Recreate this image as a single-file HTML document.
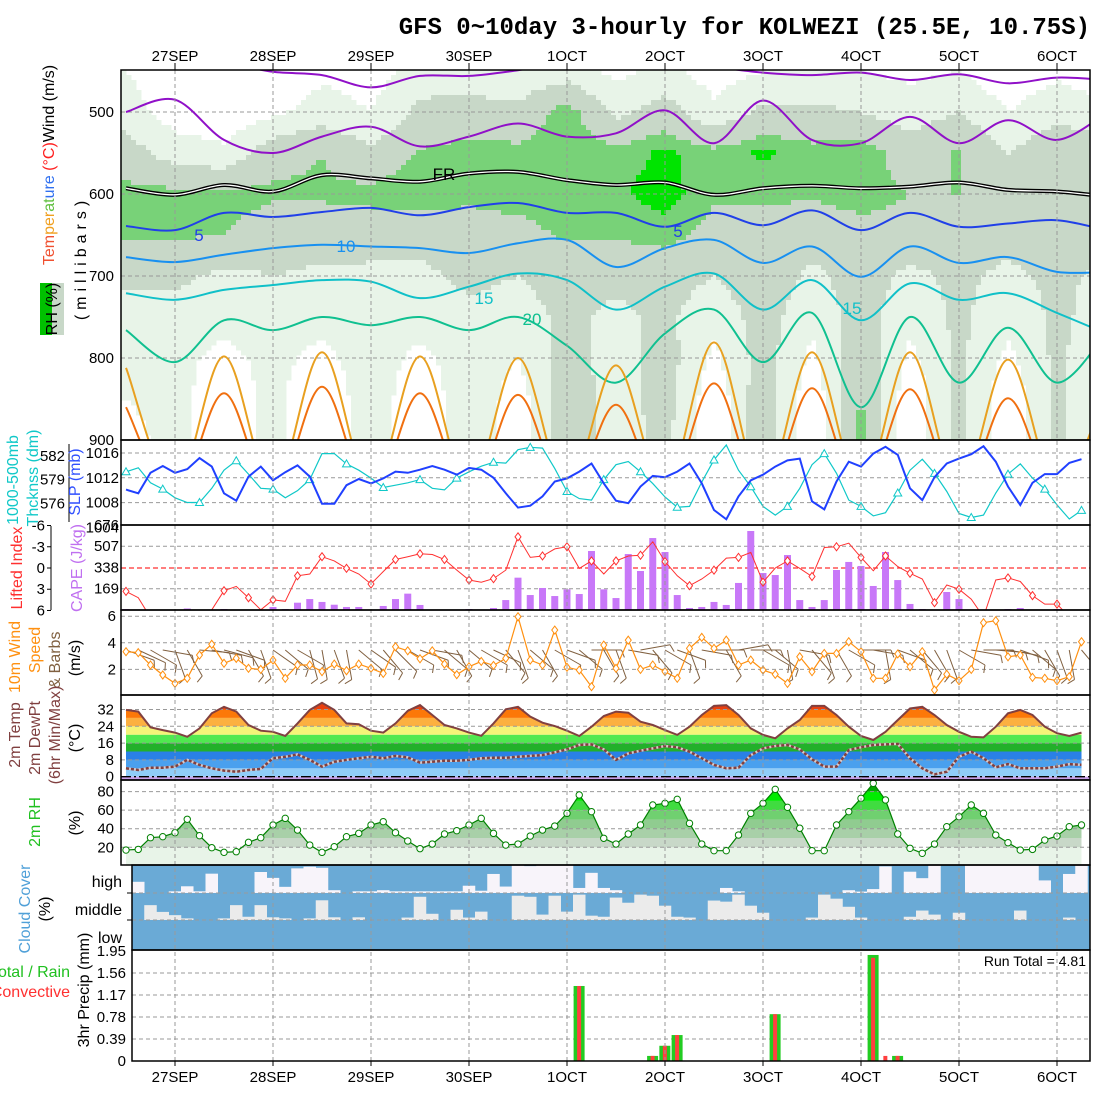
<!DOCTYPE html>
<html><head><meta charset="utf-8"><title>GFS meteogram KOLWEZI</title>
<style>
html,body{margin:0;padding:0;background:#fff;}
svg{display:block;font-family:"Liberation Sans",sans-serif;}
.t{font-size:15px;fill:#000;}
</style></head>
<body>
<svg id="chart" xmlns="http://www.w3.org/2000/svg" width="1100" height="1100" viewBox="0 0 1100 1100">
<defs>
<clipPath id="cTop"><rect x="121" y="70" width="969" height="370"/></clipPath>
<clipPath id="cSlp"><rect x="121" y="440" width="969" height="85"/></clipPath>
<clipPath id="cCape"><rect x="121" y="525" width="969" height="85"/></clipPath>
<clipPath id="cWind"><rect x="121" y="610" width="969" height="85"/></clipPath>
<clipPath id="cTemp"><rect x="121" y="695" width="969" height="85"/></clipPath>
<clipPath id="cRh"><rect x="121" y="780" width="969" height="85"/></clipPath>
<clipPath id="cCloud"><rect x="132" y="865" width="958" height="85"/></clipPath>
<clipPath id="cPrec"><rect x="132" y="950" width="958" height="111"/></clipPath>
</defs>
<rect x="0" y="0" width="1100" height="1100" fill="#fff"/>
<text x="1090" y="34" text-anchor="end" style="font-family:'Liberation Mono',monospace;font-weight:bold;font-size:24px">GFS 0~10day 3-hourly for KOLWEZI (25.5E, 10.75S)</text>

<g id="layers"></g>

<g style="font-size:16px">
<text transform="rotate(-90 54 165)" x="54" y="165" text-anchor="middle"><tspan fill="#f05030">Tem</tspan><tspan fill="#f0a020">per</tspan><tspan fill="#60c040">at</tspan><tspan fill="#3070f0">ure</tspan><tspan fill="#ff2020"> (°C)</tspan><tspan fill="#000">Wind (m/s)</tspan></text>
<rect x="40" y="283" width="24" height="52" fill="#c8d8c8"/>
<rect x="40" y="283" width="12" height="52" fill="#00c000"/>
<text transform="rotate(-90 57 309)" x="57" y="309" text-anchor="middle" fill="#000">RH (%)</text>
<text transform="rotate(-90 86 258)" x="86" y="258" text-anchor="middle" letter-spacing="5">(millibars)</text>
<text transform="rotate(-90 18 480)" x="18" y="480" text-anchor="middle" fill="#10c8c8">1000-500mb</text>
<text transform="rotate(-90 38 478)" x="38" y="478" text-anchor="middle" fill="#10c8c8">Thcknss (dm)</text>
<text transform="rotate(-90 80 482)" x="80" y="482" text-anchor="middle" fill="#3050ff">SLP (mb)</text>
<text transform="rotate(-90 22 568)" x="22" y="568" text-anchor="middle" fill="#ff3030">Lifted Index</text>
<text transform="rotate(-90 82 568)" x="82" y="568" text-anchor="middle" fill="#c070f0">CAPE (J/kg)</text>
<text transform="rotate(-90 20 657)" x="20" y="657" text-anchor="middle" fill="#ff9010">10m Wind</text>
<text transform="rotate(-90 40 650)" x="40" y="650" text-anchor="middle" fill="#ff9010">Speed</text>
<text transform="rotate(-90 60 660)" x="60" y="660" text-anchor="middle" fill="#806040">&amp; Barbs</text>
<text transform="rotate(-90 80 658)" x="80" y="658" text-anchor="middle">(m/s)</text>
<text transform="rotate(-90 20 735)" x="20" y="735" text-anchor="middle" fill="#804040">2m Temp</text>
<text transform="rotate(-90 40 738)" x="40" y="738" text-anchor="middle" fill="#804040">2m DewPt</text>
<text transform="rotate(-90 60 735)" x="60" y="735" text-anchor="middle" fill="#804040">(6hr Min/Max)</text>
<text transform="rotate(-90 80 738)" x="80" y="738" text-anchor="middle">(°C)</text>
<text transform="rotate(-90 40 822)" x="40" y="822" text-anchor="middle" fill="#20c020">2m RH</text>
<text transform="rotate(-90 80 823)" x="80" y="823" text-anchor="middle">(%)</text>
<text transform="rotate(-90 30 909)" x="30" y="909" text-anchor="middle" fill="#50a0d8">Cloud Cover</text>
<text transform="rotate(-90 50 909)" x="50" y="909" text-anchor="middle">(%)</text>
<text x="122" y="887" text-anchor="end">high</text>
<text x="122" y="915" text-anchor="end">middle</text>
<text x="122" y="943" text-anchor="end">low</text>
<text x="70" y="977" text-anchor="end" fill="#20c020">Total / Rain</text>
<text x="70" y="997" text-anchor="end" fill="#ff3030">Convective</text>
<text transform="rotate(-90 89 990)" x="89" y="990" text-anchor="middle">3hr Precip (mm)</text>
<text x="1086" y="966" text-anchor="end" style="font-size:14px">Run Total = 4.81</text>
</g>
</svg>
<script>
// ---------------- DATA ----------------
const dateLabels = ["27SEP","28SEP","29SEP","30SEP","1OCT","2OCT","3OCT","4OCT","5OCT","6OCT"];
const pressTicks = [500,600,700,800,900];
const slpTicks = [1016,1012,1008,1004];
const thkTicks = [582,579,576];
const liTicks = [-6,-3,0,3,6];
const capeTicks = [676,507,338,169];
const windTicks = [6,4,2];
const tempTicks = [32,24,16,8,0];
const rhTicks = [80,60,40,20];
const precTicks = [1.95,1.56,1.17,0.78,0.39,0];

const slpData = [1010.1,1009.5,1012.8,1013.9,1012.8,1013.4,1015.2,1013.8,1009.5,1008.3,1012.2,1013.8,1011.6,1012.9,1014.0,1012.2,1007.8,1007.8,1010.8,1011.8,1011.1,1011.9,1013.0,
1012.8,1013.3,1013.9,1013.3,1012.5,1013.6,1013.3,1012.0,
1009.5,1007.2,1007.5,1009.0,1011.4,1011.9,1013.0,1014.3,1011.1,1008.3,1007.9,1010.6,1012.3,1012.1,1013.0,1014.3,1011.1,1006.8,1005.3,1009.0,
1011.6,1012.5,1013.8,1014.8,1015.1,1008.2,1006.9,1011.4,1014.6,1013.8,1015.9,1017.0,1015.7,1010.3,1008.4,1012.1,1014.3,1015.1,1015.8,1017.1,
1014.6,1010.6,1007.6,1011.2,1012.6,1012.6,1014.4,1015.0];
const thkData = [580.0,580.5,578.6,577.8,576.7,576.1,576.1,577.9,580.2,581.4,579.7,577.9,577.8,576.7,577.6,579.0,582.3,582.3,581.0,580.2,579.2,578.0,578.3,
578.6,579.0,577.9,577.7,579.2,580.0,580.7,581.2,
581.1,582.8,583.1,583.0,580.4,577.5,576.6,576.4,579.0,580.9,581.3,580.0,578.5,576.8,575.5,575.6,578.7,581.5,583.4,580.2,
578.1,575.6,574.5,575.6,577.9,580.9,582.3,579.8,576.4,575.6,574.4,574.8,577.3,580.2,581.6,579.8,577.5,574.7,574.2,574.5,
577.3,579.7,581.0,579.2,577.8,575.8,574.0,575.1];
const liData = [3.3,4.2,7,7,7,7,7,5.9,3.2,2.6,4.2,5.9,4.5,4.7,1.1,0.85,-1.6,-1.0,0.05,0.85,2.26,0.5,-1.2,
-1.6,-2.0,-1.9,-1.2,0.3,1.7,2.0,1.5,
0.3,-4.4,-1.5,-1.7,-2.7,-3.0,0.05,-1.0,0.85,-1.0,-1.7,-1.8,-3.7,-0.9,1.1,2.5,1.55,0.3,-1.4,-1.5,
-2.2,2.0,0,-1.0,0.05,1.2,-2.9,-3.0,-3.5,-1.5,0.4,-1.7,-0.2,0.75,1.55,4.9,2.4,3.0,4.4,6.9,
1.7,1.4,1.9,3.9,5.1,5.1,6.9,7];
const capeData = [8,0,0,0,0,12,0,0,8,0,0,0,24,8,58,87,64,42,24,24,0,32,87,
130,40,0,0,0,8,0,16,
79,257,119,175,111,164,127,469,164,95,445,310,572,461,119,16,24,64,40,215,
628,294,278,437,79,24,79,318,382,350,191,461,238,48,8,0,143,87,
0,0,0,8,16,0,0,8,0,0];
const windData = [3.33,3.26,2.33,1.58,0.95,1.33,3.08,3.89,2.46,2.83,2.08,2.0,2.7,1.33,2.33,2.33,1.83,2.4,1.9,2.4,2.08,1.7,3.7,
3.4,2.8,3.4,2.4,1.6,2.2,2.6,2.3,
2.83,5.96,2.7,2.33,4.96,2.16,1.95,0.7,3.83,2.08,4.2,2.0,2.33,1.83,1.33,3.58,4.41,3.58,4.2,2.33,
2.7,1.95,1.63,0.95,2.95,1.83,3.2,3.2,4.08,3.33,1.33,1.33,3.16,2.2,3.33,0.45,1.63,1.15,2.0,5.51,
5.66,2.95,3.08,1.4,1.33,1.15,1.45,4.08];
const windDir = [110,115,120,100,160,150,95,100,105,110,
150,160,125,130,120,165,170,160,170,130,
125,140,135,120,110,100,130,150,130,120,
115,140,160,130,150,120,110,130,90,150,
160,100,80,140,120,110,160,100,90,150,
80,90,120,130,170,100,140,160,150,120,
90,100,170,110,130,140,150,160,120,100,
90,95,100,110,130,150,160,170,140];
const tempData = [31.8,31.0,23.5,22.2,
21.0,19.0,23.0,30.2,33.3,31.0,24.6,21.9,
21.4,19.4,25.4,31.8,35.2,31.8,25.4,25.0,
21.9,21.0,
25.4,31.4,34.1,29.4,24.6,23.0,21.0,19.5,25.4,32.1,
33.3,28.6,25.7,24.1,21.9,19.4,23.8,28.9,31.0,30.5,
26.2,24.6,22.2,19.9,23.8,29.4,33.7,34.1,29.4,23.0,
19.9,18.3,23.0,27.0,33.7,33.7,29.4,23.8,19.4,17.5,
21.4,27.0,32.5,33.3,29.4,24.6,21.4,19.0,18.7,23.8,
30.2,31.8,29.4,23.8,20.7,19.4,21.0];
const dewData = [4.0,3.2,4.3,4.3,4.8,8.0,5.6,4.0,2.9,2.4,3.2,3.7,8.8,9.5,10.6,8.0,4.8,7.1,8.0,8.8,9.5,
8.8,9.9,9.2,6.7,7.1,7.6,7.6,8.0,8.8,9.0,
9.0,9.5,9.9,10.3,11.6,13.0,15.1,15.4,13.0,8.0,
11.1,12.4,13.5,14.6,14.0,11.9,8.8,5.6,4.0,4.3,
10.3,13.5,14.6,15.1,13.0,8.3,4.8,4.8,12.7,14.0,
15.1,15.4,15.6,8.8,4.0,1.1,2.4,9.5,11.9,8.8,
4.5,6.0,4.0,4.0,4.0,4.8,6.0,5.6];
const rhData = [17.0,17.7,30.3,31.4,35.7,50.2,32.5,19.5,14.5,15.2,25.3,30.3,44.0,51.2,38.6,22.4,14.5,20.6,31.4,35.0,44.0,
47.6,35.7,26.8,18.5,23.5,34.3,37.9,44.0,51.2,35.0,
22.4,23.5,32.1,38.6,42.9,56.6,76.4,58.4,29.7,23.5,
34.3,44.0,65.6,67.4,71.7,45.8,23.5,16.3,16.3,33.2,
56.6,67.4,82.5,63.1,40.5,16.3,16.3,44.0,58.4,72.8,
89.0,71.0,34.3,18.9,13.5,23.5,42.2,53.0,65.6,56.6,
33.2,24.9,17.0,17.7,27.8,32.1,42.2,44.0];
const cloudHigh = [40,0,0,6,24,6,69,0,0,0,75,54,22,88,94,90,10,0,6,6,10,6,
6,6,6,6,6,26,8,68,23,99,96,99,99,99,18,72,18,10,
0,0,0,0,0,0,0,0,18,6,0,0,0,0,0,0,0,0,10,5,
14,95,0,76,53,99,0,0,99,99,99,99,99,99,45,0,68,99];
const cloudMid = [0,55,30,18,6,0,0,6,55,12,55,10,6,0,6,73,10,0,10,0,0,0,
9,86,23,0,38,9,31,0,0,90,86,20,90,31,94,16,12,83,64,94,
90,53,12,9,0,72,68,94,53,27,0,0,0,9,94,79,49,9,0,0,
0,12,35,20,0,27,0,0,0,0,35,0,0,0,9,0];
const cloudLow = [0,0,0,0,0,0,0,0,0,0,0,0,0,0,0,0,0,0,0,0,0,0,0,0,0,0,0,0,0,0,0,0,0,0,0,0,0,0,0,0,
0,0,0,0,0,0,0,0,0,0,0,0,0,0,0,0,0,0,0,0,0,0,0,0,0,0,0,0,0,0,0,0,0,0,0,0,0,0];
const precTotal = [0,0,0,0,0,0,0,0,0,0,0,0,0,0,0,0,0,0,0,0,0,0,0,0,0,0,0,0,0,0,0,0,0,0,0,0,1.33,0,0,0,
0,0,0.09,0.27,0.46,0,0,0,0,0,0,0,0.83,0,0,0,0,0,0,0,1.88,0,0.09,0,0,0,0,0,0,0,0,0,0,0,0,0,0,0];
const precConv = [0,0,0,0,0,0,0,0,0,0,0,0,0,0,0,0,0,0,0,0,0,0,0,0,0,0,0,0,0,0,0,0,0,0,0,0,1.33,0,0,0,
0,0,0.09,0.27,0.46,0,0,0,0,0,0,0,0.83,0,0,0,0,0,0,0,1.83,0.09,0.09,0,0,0,0,0,0,0,0,0,0,0,0,0,0,0];

const xsLevels = [450,500,550,600,650,700,750,800,850,900];
const xsRh = [
[30,40,60,75,72,55,40,35,30,25],[15,20,40,75,72,55,40,35,35,35],[10,15,35,75,70,45,35,25,20,20],
[10,25,65,72,62,50,40,35,35,35],[25,40,70,72,62,45,35,25,15,15],[20,30,55,75,60,45,40,40,42,40],
[40,55,72,78,58,45,38,25,15,15],[35,60,75,72,65,55,45,40,45,45],[35,55,75,75,65,50,40,30,20,15],
[40,78,80,78,72,60,55,60,65,65],[25,45,75,78,72,55,45,40,40,40],[35,60,82,85,75,60,55,60,60,55],
[20,35,75,72,65,50,35,25,15,15],[30,55,82,72,65,65,60,60,65,65],[30,55,75,72,60,45,35,25,15,15],
[30,50,80,75,65,60,60,65,72,75],[25,40,60,70,65,45,35,25,15,15],[30,50,72,70,60,55,55,55,55,55],
[15,30,50,65,58,45,35,25,15,15],[25,45,65,70,60,55,55,55,55,55],[15,35,60,65,55,45,40,30,25,25]];
const isoM10 = [500,485,534,550,530,518,542,530,514,530,526,498,538,486,534,538,506,538,510,534,502];
const isoM10b = [440,440,440,451,455,470,456,456,449,440,440,440,445,452,455,452,461,454,465,458,461];
const isoFR = [593,601,589,597,577,581,585,575,573,583,589,586,601,593,590,593,591,586,595,597,603];
const iso5 = [639,644,623,628,622,617,626,616,611,623,623,640,623,638,620,644,623,640,636,632,644];
const iso10 = [677,683,674,666,662,664,666,672,660,656,689,666,656,684,664,701,664,684,677,695,695];
const iso15 = [721,729,717,711,705,707,727,713,697,705,741,713,697,741,705,754,709,729,721,745,770];
const iso20 = [766,805,754,766,750,760,750,766,750,785,830,770,741,805,745,860,750,830,763,830,770];
const iso25 = [812,960,798,960,793,960,798,960,800,960,809,960,781,960,793,960,793,960,802,960,840];
const iso30 = [860,970,843,970,835,970,843,970,845,970,857,970,831,970,837,970,838,970,849,970,900];

// ---------------- SCALES ----------------
const NS = "http://www.w3.org/2000/svg";
const root = document.getElementById("layers");
const X0 = 121, X1 = 1090;
const xOf = i => 126 + 12.25 * i;
const xBlk = k => 132 + 12.25 * k;
const xDay = d => 175 + 98 * d;
const xCol = t => 126 + 49 * t;
const pY = p => 112 + (p - 500) * 0.82;
const slpY = v => 453 + (1016 - v) * 6.2;
const thkY = v => 456 + (582 - v) * 7.88;
const liY = v => 568 + v * 7.08;
const capeY = v => 610 - v / 7.95;
const windY = v => 696 - v * 13.3;
const tempY = v => 776.7 - v * 2.1;
const rhY = v => 865.8 - v * 0.927;
const precY = v => 1061 - v * 56.4;

function mk(tag, attrs, parent) {
  const e = document.createElementNS(NS, tag);
  for (const k in attrs) e.setAttribute(k, attrs[k]);
  (parent || root).appendChild(e);
  return e;
}
function grp(clip) {
  return mk("g", clip ? {"clip-path": "url(#" + clip + ")"} : {});
}
function smooth(pts) {
  let d = "M" + pts[0][0] + "," + pts[0][1];
  for (let i = 0; i < pts.length - 1; i++) {
    const p0 = pts[Math.max(0, i - 1)], p1 = pts[i], p2 = pts[i + 1], p3 = pts[Math.min(pts.length - 1, i + 2)];
    const c1x = p1[0] + (p2[0] - p0[0]) / 6, c1y = p1[1] + (p2[1] - p0[1]) / 6;
    const c2x = p2[0] - (p3[0] - p1[0]) / 6, c2y = p2[1] - (p3[1] - p1[1]) / 6;
    d += " C" + c1x.toFixed(1) + "," + c1y.toFixed(1) + " " + c2x.toFixed(1) + "," + c2y.toFixed(1) + " " + p2[0].toFixed(1) + "," + p2[1].toFixed(1);
  }
  return d;
}
function poly(arr, yf) { return arr.map((v, i) => xOf(i).toFixed(1) + "," + yf(v).toFixed(1)).join(" "); }

// ---------------- TOP CROSS-SECTION ----------------
function rhColor(v) {
  if (v >= 90) return "#00a000";
  if (v >= 80) return "#00e400";
  if (v >= 70) return "#78d278";
  if (v >= 50) return "#c8d8c8";
  if (v >= 30) return "#e8f4e8";
  return "#ffffff";
}
function rhAt(x, y) {
  let t = Math.min(20, Math.max(0, (x - 126) / 49));
  const p = 500 + (y - 112) / 0.82;
  let l = Math.min(9, Math.max(0, (p - 450) / 50));
  const t0 = Math.min(19, Math.floor(t)), l0 = Math.min(8, Math.floor(l));
  const ft = t - t0, fl = l - l0;
  const a = xsRh[t0][l0] * (1 - fl) + xsRh[t0][l0 + 1] * fl;
  const b = xsRh[t0 + 1][l0] * (1 - fl) + xsRh[t0 + 1][l0 + 1] * fl;
  return a * (1 - ft) + b * ft;
}
const gXs = grp("cTop");


const STEP = 5;
for (let y = 70; y < 440; y += STEP) {
  let runStart = X0, runCol = null;
  for (let x = X0; x < X1 + STEP; x += STEP) {
    const c = x < X1 ? rhColor(rhAt(x + STEP / 2, y + STEP / 2)) : null;
    if (c !== runCol) {
      if (runCol && runCol !== "#ffffff") {
        const r = mk("rect", {x: runStart, y: y, width: x - runStart + 0.5, height: STEP + 0.5, fill: runCol}, gXs);
        
        
      }
      runStart = x; runCol = c;
    }
  }
}
const gTopGrid = grp("cTop");


pressTicks.forEach(p => {
  const l = mk("line", {x1: X0, x2: X1, y1: pY(p), y2: pY(p), stroke: "#999", "stroke-dasharray": "4,3"}, gTopGrid);
  
  
});
const isoDefs = [
  [isoM10b, "#9010c8", 2, "isotherm-minus10-upper"],
  [isoM10, "#9010c8", 2, "isotherm-minus10"],
  [iso5, "#2040e8", 2, "isotherm-5"],
  [iso10, "#1890f0", 2, "isotherm-10"],
  [iso15, "#10c0c8", 2, "isotherm-15"],
  [iso20, "#10c090", 2, "isotherm-20"],
  [iso25, "#e8a020", 2, "isotherm-25"],
  [iso30, "#f07010", 2, "isotherm-30"]];
const gIso = grp("cTop");


isoDefs.forEach(d => {
  const pts = d[0].map((p, t) => [xCol(t), pY(p)]);
  const pa = mk("path", {d: smooth(pts), fill: "none", stroke: d[1], "stroke-width": d[2], "stroke-linejoin": "round"}, gIso);
  
  
});
const frPts = isoFR.map((p, t) => [xCol(t), pY(p)]);
const fr1 = mk("path", {d: smooth(frPts), fill: "none", stroke: "#000", "stroke-width": 4}, gIso);


const fr2 = mk("path", {d: smooth(frPts), fill: "none", stroke: "#fff", "stroke-width": 1.3}, gIso);


const isoLabels = [["FR", 444, 180, "#000"], ["5", 199, 241, "#2040e8"], ["10", 346, 252, "#1890f0"], ["15", 484, 304, "#10c0c8"],
  ["20", 532, 325, "#10c090"], ["5", 678, 237, "#2040e8"], ["15", 852, 314, "#10c0c8"]];
isoLabels.forEach(l => {
  const tx = mk("text", {x: l[1], y: l[2], "text-anchor": "middle", fill: l[3], "font-size": 17}, gIso);
  tx.textContent = l[0];
  
  
});
pressTicks.forEach(p => {
  const tx = mk("text", {x: 114, y: pY(p) + 5, "text-anchor": "end", class: "t"});
  tx.textContent = p;
  
  
});

// ---------------- SLP / THICKNESS ----------------
const gSlp = grp("cSlp");


slpTicks.slice(0, 3).forEach(v => {
  const l = mk("line", {x1: X0, x2: X1, y1: slpY(v), y2: slpY(v), stroke: "#999", "stroke-dasharray": "4,3"}, gSlp);
  
  
});
const thkLine = mk("polyline", {points: poly(thkData, thkY), fill: "none", stroke: "#10c8c8", "stroke-width": 1.2}, gSlp);


thkData.forEach((v, i) => {
  if (i % 3 !== 0) return;
  const x = xOf(i), y = thkY(v);
  const m = mk("polygon", {points: (x - 4) + "," + (y + 3) + " " + (x + 4) + "," + (y + 3) + " " + x + "," + (y - 4), fill: "#fff", stroke: "#10c8c8"}, gSlp);
  
  
});
const slpLine = mk("polyline", {points: poly(slpData, slpY), fill: "none", stroke: "#2040ff", "stroke-width": 2}, gSlp);


slpTicks.forEach(v => {
  const tx = mk("text", {x: 119, y: slpY(v) + 5, "text-anchor": "end", class: "t"});
  tx.textContent = v;
  
  
});
thkTicks.forEach(v => {
  const tx = mk("text", {x: 65, y: thkY(v) + 5, "text-anchor": "end", class: "t"});
  tx.textContent = v;
  
  
});
const thkAx = mk("line", {x1: 69, x2: 69, y1: 444, y2: 522, stroke: "#000"});



// ---------------- CAPE / LI ----------------
const gCape = grp("cCape");


[507, 169].forEach(v => {
  const l = mk("line", {x1: X0, x2: X1, y1: capeY(v), y2: capeY(v), stroke: "#999", "stroke-dasharray": "4,3"}, gCape);
  
  
});
const liZero = mk("line", {x1: X0, x2: X1, y1: liY(0), y2: liY(0), stroke: "#ff3030", "stroke-dasharray": "5,3", "stroke-width": 1.3}, gCape);


capeData.forEach((v, i) => {
  if (v <= 0) return;
  const b = mk("rect", {x: xOf(i) - 3.5, y: capeY(v), width: 7, height: 610 - capeY(v), fill: "#c878f8"}, gCape);
  
  
});
const liLine = mk("polyline", {points: poly(liData, liY), fill: "none", stroke: "#ff3030", "stroke-width": 1}, gCape);


liData.forEach((v, i) => {
  if (i % 2 !== 0) return;
  const x = xOf(i), y = liY(v);
  const m = mk("polygon", {points: x + "," + (y - 4) + " " + (x + 3) + "," + y + " " + x + "," + (y + 4) + " " + (x - 3) + "," + y, fill: "#fff", stroke: "#ff3030"}, gCape);
  
  
});
liTicks.forEach(v => {
  const tx = mk("text", {x: 45, y: liY(v) + 5, "text-anchor": "end", class: "t"});
  tx.textContent = v;
  
  
  const tk = mk("line", {x1: 47, x2: 51, y1: liY(v), y2: liY(v), stroke: "#000"});
  
  
});
const liAx = mk("line", {x1: 51, x2: 51, y1: 526, y2: 610, stroke: "#000"});


capeTicks.forEach(v => {
  const tx = mk("text", {x: 119, y: capeY(v) + 5, "text-anchor": "end", class: "t"});
  tx.textContent = v;
  
  
});

// ---------------- WIND ----------------
const gWind = grp("cWind");


windTicks.forEach(v => {
  const l = mk("line", {x1: X0, x2: X1, y1: windY(v), y2: windY(v), stroke: "#999", "stroke-dasharray": "4,3"}, gWind);
  
  
});
windDir.forEach((d, i) => {
  const a = d * Math.PI / 180, L = 30;
  const x = xOf(i), y = 650;
  const x2 = x + Math.sin(a) * L, y2 = y - Math.cos(a) * L;
  const s = mk("line", {x1: x, y1: y, x2: x2, y2: y2, stroke: "#806040", "stroke-width": 1}, gWind);
  
  
  const bx = x2 + Math.sin(a + 1.2) * 8, by = y2 - Math.cos(a + 1.2) * 8;
  const f = mk("line", {x1: x2, y1: y2, x2: bx, y2: by, stroke: "#806040", "stroke-width": 1}, gWind);
  
  
});
const wLine = mk("polyline", {points: poly(windData, windY), fill: "none", stroke: "#ff9010", "stroke-width": 1.2}, gWind);


windData.forEach((v, i) => {
  const x = xOf(i), y = windY(v);
  const m = mk("polygon", {points: x + "," + (y - 4) + " " + (x + 3) + "," + y + " " + x + "," + (y + 4) + " " + (x - 3) + "," + y, fill: "#fff", stroke: "#ff9010"}, gWind);
  
  
});
windTicks.forEach(v => {
  const tx = mk("text", {x: 116, y: windY(v) + 5, "text-anchor": "end", class: "t"});
  tx.textContent = v;
  
  
});

// ---------------- TEMPERATURE ----------------
const gTemp = grp("cTemp");


const defs = document.querySelector("defs");
const cpT = mk("clipPath", {id: "tempArea"}, defs);
const tArea = "M" + xOf(0) + "," + tempY(0) + " L" + poly(tempData, tempY).split(" ").join(" L") + " L" + xOf(tempData.length - 1) + "," + tempY(0) + " Z";
mk("path", {d: tArea}, cpT);
const tempBands = [[0,4,"#90cdf8"],[4,8,"#4aa0ee"],[8,12,"#2a80e6"],[12,16,"#22b02a"],[16,20,"#50e850"],[20,24,"#f4f478"],[24,28,"#fcb040"],[28,32,"#fc7808"],[32,45,"#e84010"]];
const gBands = mk("g", {"clip-path": "url(#tempArea)"}, gTemp);


tempBands.forEach(b => {
  const r = mk("rect", {x: X0, y: tempY(b[1]), width: X1 - X0, height: tempY(b[0]) - tempY(b[1]), fill: b[2]}, gBands);
  
  
});
const purp = mk("rect", {x: X0, y: tempY(0), width: X1 - X0, height: 4, fill: "#c8a0e8"}, gTemp);


tempTicks.slice(0, 4).forEach(v => {
  const l = mk("line", {x1: X0, x2: X1, y1: tempY(v), y2: tempY(v), stroke: "#999", "stroke-dasharray": "4,3"}, gTemp);
  
  
});
const zeroL = mk("line", {x1: X0, x2: X1, y1: tempY(0), y2: tempY(0), stroke: "#000", "stroke-dasharray": "10,3,2,3", "stroke-width": 1.3}, gTemp);


const tLine = mk("polyline", {points: poly(tempData, tempY), fill: "none", stroke: "#804040", "stroke-width": 2}, gTemp);


const dLine0 = mk("polyline", {points: poly(dewData, tempY), fill: "none", stroke: "#d8c8c8", "stroke-width": 2.5}, gTemp);


const dLine = mk("polyline", {points: poly(dewData, tempY), fill: "none", stroke: "#804040", "stroke-width": 2.5, "stroke-dasharray": "3,2"}, gTemp);


tempTicks.forEach(v => {
  const tx = mk("text", {x: 114, y: tempY(v) + 5, "text-anchor": "end", class: "t"});
  tx.textContent = v;
  
  
});

// ---------------- 2m RH ----------------
const gRh = grp("cRh");


const cpR = mk("clipPath", {id: "rhArea"}, defs);
const rArea = "M" + xOf(0) + "," + rhY(0) + " L" + poly(rhData, rhY).split(" ").join(" L") + " L" + xOf(rhData.length - 1) + "," + rhY(0) + " Z";
mk("path", {d: rArea}, cpR);
const rhBands = [[0,20,"#e8f4e8"],[20,30,"#c8d8c8"],[30,40,"#a8d0a8"],[40,50,"#90cc90"],[50,60,"#70d070"],[60,70,"#40dc40"],[70,80,"#00ec00"],[80,100,"#00a800"]];
const gRB = mk("g", {"clip-path": "url(#rhArea)"}, gRh);


rhBands.forEach(b => {
  const r = mk("rect", {x: X0, y: rhY(b[1]), width: X1 - X0, height: rhY(b[0]) - rhY(b[1]), fill: b[2]}, gRB);
  
  
});
rhTicks.forEach(v => {
  const l = mk("line", {x1: X0, x2: X1, y1: rhY(v), y2: rhY(v), stroke: "#999", "stroke-dasharray": "4,3"}, gRh);
  
  
});
const rLine = mk("polyline", {points: poly(rhData, rhY), fill: "none", stroke: "#008000", "stroke-width": 1.2}, gRh);


rhData.forEach((v, i) => {
  const c = mk("circle", {cx: xOf(i), cy: rhY(v), r: 3.2, fill: "#fff", stroke: "#008000"}, gRh);
  
  
});
rhTicks.forEach(v => {
  const tx = mk("text", {x: 114, y: rhY(v) + 5, "text-anchor": "end", class: "t"});
  tx.textContent = v;
  
  
});

// ---------------- CLOUD ----------------
const gCl = grp("cCloud");


const clBg = mk("rect", {x: 132, y: 865, width: 958, height: 85, fill: "#6aaad6"}, gCl);


const layers = [[cloudHigh, 865, 893, "#f8f4fa", "cloud-high-block"], [cloudMid, 893, 920, "#ebebeb", "cloud-middle-block"], [cloudLow, 920, 950, "#ebebeb", "cloud-low-block"]];
layers.forEach(L => {
  L[0].forEach((v, k) => {
    if (v <= 0) return;
    const h = (L[2] - L[1]) * v / 100;
    const r = mk("rect", {x: xBlk(k), y: L[2] - h, width: 12.5, height: h, fill: L[3]}, gCl);
    
    
  });
});
[893, 920].forEach(y => {
  const l = mk("line", {x1: 132, x2: X1, y1: y, y2: y, stroke: "#999", "stroke-dasharray": "4,3"}, gCl);
  
  
});
[893, 920].forEach(y => {
  const tk = mk("line", {x1: 127, x2: 132, y1: y, y2: y, stroke: "#000"});
  
  
});

// ---------------- PRECIP ----------------
const gPr = grp("cPrec");


precTicks.slice(1, 5).forEach(v => {
  const l = mk("line", {x1: 132, x2: X1, y1: precY(v), y2: precY(v), stroke: "#999", "stroke-dasharray": "4,3"}, gPr);
  
  
});
precTotal.forEach((v, k) => {
  if (v <= 0) return;
  const r = mk("rect", {x: xBlk(k) + 0.6, y: precY(v), width: 11, height: 1061 - precY(v), fill: "#22cc22"}, gPr);
  
  
});
precConv.forEach((v, k) => {
  if (v <= 0) return;
  const r = mk("rect", {x: xBlk(k) + 4.1, y: precY(v), width: 4, height: 1061 - precY(v), fill: "#ff4040"}, gPr);
  
  
});
precTicks.forEach(v => {
  const tx = mk("text", {x: 126, y: precY(v) + 5, "text-anchor": "end", class: "t"});
  tx.textContent = v;
  
  
});

// ---------------- DATE GRID + FRAMES ----------------
const gDates = mk("g", {});


dateLabels.forEach((lab, d) => {
  const x = xDay(d);
  const l = mk("line", {x1: x, x2: x, y1: 70, y2: 1061, stroke: "#999", "stroke-dasharray": "4,3"}, gDates);
  
  
  const tt = mk("line", {x1: x, x2: x, y1: 63, y2: 70, stroke: "#000"}, gDates);
  
  
  const tb = mk("line", {x1: x, x2: x, y1: 1061, y2: 1066, stroke: "#000"}, gDates);
  
  
  const a = mk("text", {x: x, y: 61, "text-anchor": "middle", class: "t"}, gDates);
  a.textContent = lab;
  
  
  const b = mk("text", {x: x, y: 1082, "text-anchor": "middle", class: "t"}, gDates);
  b.textContent = lab;
  
  
});
const frames = [[121, 70, 440, "top-panel-frame"], [121, 440, 525, "slp-panel-frame"], [121, 525, 610, "cape-panel-frame"], [121, 610, 695, "wind-panel-frame"],
  [121, 695, 780, "temp-panel-frame"], [121, 780, 865, "rh-panel-frame"], [132, 865, 950, "cloud-panel-frame"], [132, 950, 1061, "precip-panel-frame"]];
frames.forEach(f => {
  const r = mk("rect", {x: f[0], y: f[1], width: X1 - f[0], height: f[2] - f[1], fill: "none", stroke: "#000", "stroke-width": 1.5});
  
  
});
</script>
</body></html>
